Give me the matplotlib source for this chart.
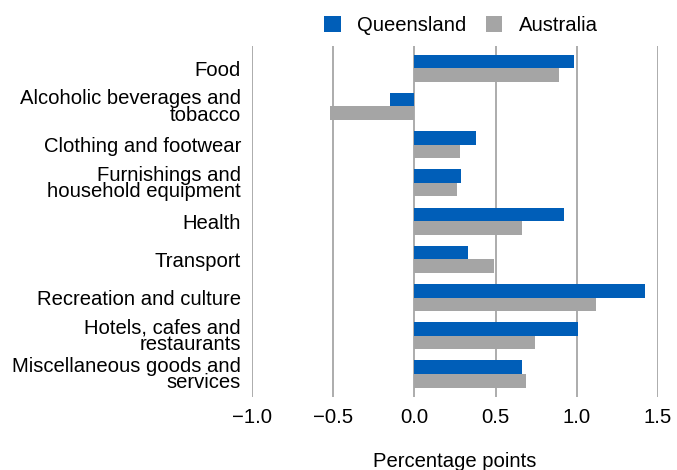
import matplotlib
matplotlib.use("Agg")
import matplotlib.pyplot as plt
import numpy as np

plt.rcParams['font.family'] = ['Liberation Sans', 'DejaVu Sans']

categories = ["Food", "Alcoholic beverages and\ntobacco", "Clothing and footwear",
              "Furnishings and\nhousehold equipment", "Health", "Transport",
              "Recreation and culture", "Hotels, cafes and\nrestaurants",
              "Miscellaneous goods and\nservices"]
queensland = [0.98, -0.15, 0.38, 0.29, 0.92, 0.33, 1.42, 1.01, 0.66]
australia = [0.89, -0.52, 0.28, 0.26, 0.66, 0.49, 1.12, 0.74, 0.69]
xticks = [-1.0, -0.5, 0.0, 0.5, 1.0, 1.5]
xticklabels = ["\u22121.0", "\u22120.5", "0.0", "0.5", "1.0", "1.5"]

FS = 14.6

fig = plt.figure(figsize=(6.77, 4.70), dpi=100)
ax = fig.add_axes([252/677, 1-397/470, (658-252)/677, (397-46)/470])

y = np.arange(len(categories))
h = 0.355
ax.barh(y - h/2, queensland, height=h, color="#005EB8", label="Queensland", zorder=3)
ax.barh(y + h/2, australia, height=h, color="#A5A5A5", label="Australia", zorder=3)

ax.set_xlim(-1.0, 1.5)
ax.set_ylim(8.6, -0.58)
ax.set_xticks(xticks)
ax.set_xticklabels(xticklabels, fontsize=FS)
ax.set_yticks(y)
ax.set_yticklabels(categories, fontsize=FS, linespacing=0.82)
ax.tick_params(axis='both', length=0)
ax.tick_params(axis='y', pad=8)
ax.tick_params(axis='x', pad=8)
for s in ax.spines.values():
    s.set_visible(False)
ax.xaxis.grid(True, color="#A6A6A6", linewidth=1.3, zorder=0)
ax.set_axisbelow(True)
ax.set_xlabel("Percentage points", fontsize=FS, labelpad=18)

fig.legend(loc="upper center", bbox_to_anchor=(461/677, 1.005), ncol=2, frameon=False,
           fontsize=FS, handlelength=0.8, handleheight=0.8, columnspacing=1.0,
           handletextpad=0.8)

fig.savefig("out.png", dpi=100)
